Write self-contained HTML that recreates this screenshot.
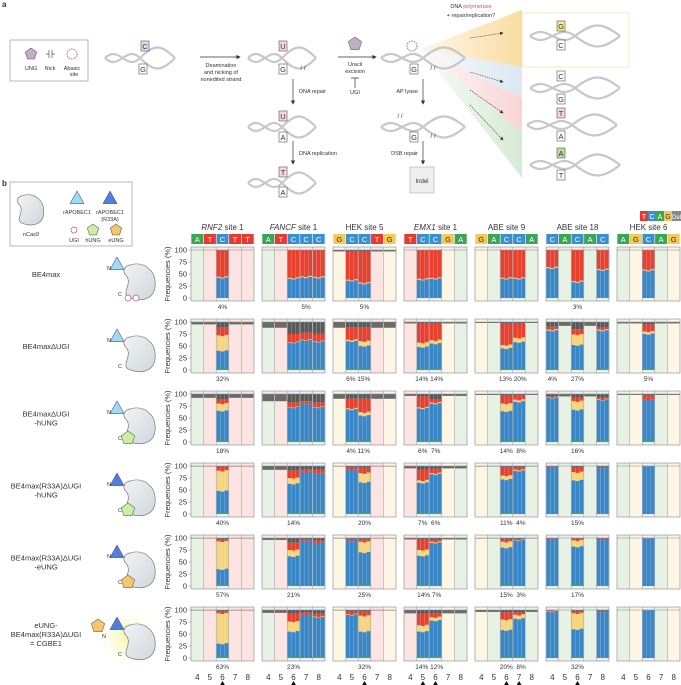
<!DOCTYPE html>
<html><head><meta charset="utf-8">
<style>
html,body{margin:0;padding:0;background:#fff;}
svg{display:block;font-family:"Liberation Sans",sans-serif;}
</style></head>
<body>
<svg id="s" width="681" height="685" viewBox="0 0 681 685" xmlns="http://www.w3.org/2000/svg">
<defs>
<linearGradient id="bean" x1="0" y1="0" x2="1" y2="1"><stop offset="0" stop-color="#f2f4f6"/><stop offset="1" stop-color="#cfd6dc"/></linearGradient>
<radialGradient id="glow"><stop offset="0" stop-color="#f4f7a0"/><stop offset="1" stop-color="#ffffff" stop-opacity="0"/></radialGradient>
<linearGradient id="fanO" x1="0" x2="1"><stop offset="0" stop-color="#fbe2b0" stop-opacity="0.3"/><stop offset="1" stop-color="#f9dca0"/></linearGradient>
<linearGradient id="fanB" x1="0" x2="1"><stop offset="0" stop-color="#dfe9f3" stop-opacity="0.2"/><stop offset="1" stop-color="#dbe7f3"/></linearGradient>
<linearGradient id="fanP" x1="0" x2="1"><stop offset="0" stop-color="#fbd9d9" stop-opacity="0.2"/><stop offset="1" stop-color="#f9d4d4"/></linearGradient>
<linearGradient id="fanG" x1="0" x2="1"><stop offset="0" stop-color="#d9ecd8" stop-opacity="0.2"/><stop offset="1" stop-color="#d6ead4"/></linearGradient>
<marker id="ar" markerWidth="6" markerHeight="6" refX="5" refY="3" orient="auto"><path d="M0,0 L6,3 L0,6z" fill="#333"/></marker>
</defs>
<g id="g"></g>
</svg>
<script>
(function(){
var g=document.getElementById('g');var h='';
function t(x,y,s,o){o=o||{};h+='<text x="'+x+'" y="'+y+'" font-size="'+(o.fs||7)+'" fill="'+(o.c||'#333')+'" text-anchor="'+(o.a||'middle')+'"'+(o.it?' font-style="italic"':'')+(o.w?' font-weight="bold"':'')+(o.tr?' transform="'+o.tr+'"':'')+'>'+s+'</text>';}
function r(x,y,w,hh,f,st){h+='<rect x="'+x+'" y="'+y+'" width="'+w+'" height="'+hh+'" fill="'+f+'"'+(st?' stroke="'+st+'" stroke-width="0.6"':'')+'/>';}
function p(d,f,st,sw,extra){h+='<path d="'+d+'" fill="'+(f||'none')+'" stroke="'+(st||'none')+'" stroke-width="'+(sw||0.8)+'" '+(extra||'')+'/>';}
var pent=function(cx,cy,s,f){var d='';for(var i=0;i<5;i++){var a=-Math.PI/2+i*2*Math.PI/5;d+=(i?'L':'M')+(cx+s*Math.cos(a)).toFixed(1)+','+(cy+s*Math.sin(a)).toFixed(1);}p(d+'z',f,'#666',0.6);};
function helix(x,y,w){p('M'+x+','+(y+12)+' C'+(x+w*0.2)+','+(y-2)+' '+(x+w*0.3)+','+(y+26)+' '+(x+w*0.5)+','+(y+12)+' S'+(x+w*0.8)+','+(y-2)+' '+(x+w)+','+(y+12),'none','#c8c8c8',2.2);
 p('M'+x+','+(y+12)+' C'+(x+w*0.2)+','+(y+26)+' '+(x+w*0.3)+','+(y-2)+' '+(x+w*0.5)+','+(y+12)+' S'+(x+w*0.8)+','+(y+26)+' '+(x+w)+','+(y+12),'none','#c8c8c8',2.2);}
function bx(x,y,l,f){r(x-4,y-5,8,10,f||'#fff','#555');t(x,y+3,l,{fs:7.5});}
// ---- panel a
t(2,7,'a',{w:1,fs:8,a:'start'});
r(10,40,78,41,'#fff','#888');pent(31,54,6,'#bfb0c4');t(31,70,'UNG',{fs:5.5});
p('M46,54h3M52,54h3','none','#555',0.7);p('M49,50v8M52,50v8','none','#555',0.7);t(50,70,'Nick',{fs:5.5});
h+='<circle cx="72" cy="54" r="5" fill="none" stroke="#e06060" stroke-dasharray="1.5,1"/>';t(72,70,'Abasic',{fs:5.5});t(74,76,'site',{fs:5.5});
helix(105,46,70);bx(145,46,'C','#cfe2f3');bx(143,69,'G');
p('M200,57H240','none','#333',0.7,'marker-end="url(#ar)"');t(221,67,'Deamination',{fs:5.5});t(221,74,'and nicking of',{fs:5.5});t(221,81,'nonedited strand',{fs:5.5});
helix(248,46,68);bx(283,46,'U','#f6d6d6');bx(283,69,'G');t(303,70,'/ /',{fs:6});
p('M293,79V104','none','#333',0.7,'marker-end="url(#ar)"');t(299,93,'DNA repair',{fs:5.5,a:'start'});
helix(248,115,68);bx(283,116,'U','#f6d6d6');bx(283,137,'A');
p('M293,141V164','none','#333',0.7,'marker-end="url(#ar)"');t(299,155,'DNA replication',{fs:5.5,a:'start'});
helix(248,171,68);bx(283,172,'T','#f6d6d6');bx(283,192,'A');
pent(355,44,7,'#bfb0c4');p('M338,57H376','none','#333',0.7,'marker-end="url(#ar)"');t(355,66,'Uracil',{fs:5.5});t(355,73,'excision',{fs:5.5});
p('M355,88V78M351,78H359','none','#333',0.7);t(355,94,'UGI',{fs:5.5});
h+='<polygon points="421,49 522,10 522,67" fill="url(#fanO)"/><polygon points="421,49 522,67 522,98" fill="url(#fanB)"/><polygon points="421,49 522,98 522,133" fill="url(#fanP)"/><polygon points="421,49 522,133 522,178" fill="url(#fanG)"/>';
helix(381,46,84);h+='<circle cx="412" cy="46" r="5" fill="#fff" stroke="#e06060" stroke-dasharray="1.5,1"/>';bx(414,69,'G');t(433,70,'/ /',{fs:6});
p('M423,79V104','none','#333',0.7,'marker-end="url(#ar)"');t(418,93,'AP lyase',{fs:5.5,a:'end'});
helix(381,115,84);bx(414,137,'G');t(400,118,'/ /',{fs:6});t(433,138,'/ /',{fs:6});
p('M423,141V164','none','#333',0.7,'marker-end="url(#ar)"');t(418,155,'DSB repair',{fs:5.5,a:'end'});
r(410,167,24,26,'#eee','#aaa');t(422,183,'Indel',{fs:6});
t(471,8,'DNA <tspan fill="#e05050">polymerase</tspan>',{fs:5.5});t(471,17,'+ repair/replication?',{fs:5.5});
p('M470,38L503,33','none','#333',0.6,'stroke-dasharray="1.5,1" marker-end="url(#ar)"');p('M470,72L503,82','none','#333',0.6,'stroke-dasharray="1.5,1" marker-end="url(#ar)"');
p('M470,90L503,113','none','#333',0.6,'stroke-dasharray="1.5,1" marker-end="url(#ar)"');p('M470,105L503,140','none','#333',0.6,'stroke-dasharray="1.5,1" marker-end="url(#ar)"');
r(522,13,107,54,'#fff','#f0dca0');helix(530,24,90);bx(561,26,'G','#f7eb8a');bx(561,45,'C');
helix(530,76,90);bx(561,76,'C');bx(561,99,'G');helix(527,113,90);bx(561,113,'T','#f6d6d6');bx(561,136,'A');helix(530,153,90);bx(561,153,'A','#b6e0a0');bx(561,175,'T');
// ---- panel b legend
t(2,186,'b',{w:1,fs:8,a:'start'});
r(10,182,122,64,'#fff','#888');
function bean(cx,cy,s){p('M'+(cx-10*s)+','+(cy-18*s)+' C'+(cx+2*s)+','+(cy-22*s)+' '+(cx+16*s)+','+(cy-14*s)+' '+(cx+16*s)+','+(cy+2*s)+' C'+(cx+16*s)+','+(cy+18*s)+' '+(cx+2*s)+','+(cy+22*s)+' '+(cx-12*s)+','+(cy+16*s)+' C'+(cx-20*s)+','+(cy+12*s)+' '+(cx-8*s)+','+(cy+2*s)+' '+(cx-14*s)+','+(cy-6*s)+' C'+(cx-20*s)+','+(cy-12*s)+' '+(cx-16*s)+','+(cy-17*s)+' '+(cx-10*s)+','+(cy-18*s)+'z','url(#bean)','#777',0.7);}
bean(31,210,0.8);t(31,236,'nCas9',{fs:5.5});
function tri(cx,cy,s,f){p('M'+cx+','+(cy-s)+' L'+(cx+s)+','+(cy+s*0.8)+' L'+(cx-s)+','+(cy+s*0.8)+'z',f,'#557',0.6,'stroke-linejoin="round"');}
tri(77,198,7,'#9fdcf4');t(77,214,'rAPOBEC1',{fs:5.5});tri(110,198,7,'#4f7fdc');t(110,214,'rAPOBEC1',{fs:5.5});t(110,221,'(R33A)',{fs:5.5});
h+='<circle cx="74" cy="230" r="3" fill="#fff" stroke="#c05080" stroke-width="0.7"/>';t(74,242,'UGI',{fs:5.5});
pent(93,230,6,'#c8f0a0');t(93,242,'hUNG',{fs:5.5});pent(116,230,6,'#f7c66a');t(116,242,'eUNG',{fs:5.5});
// TCAG Del legend
var LC={T:'#e8382f',C:'#3a8fd0',A:'#3aa655',G:'#f5c85a'};
var lx=640;['T','C','A','G'].forEach(function(l,i){r(lx+i*8,211,8,10,LC[l]);t(lx+i*8+4,219,l,{fs:7,c:l=='G'?'#333':'#fff'});});r(672,211,9,10,'#888');t(676.5,219,'Del',{fs:6,c:'#fff'});
// ---- charts
var BG={A:'#e7f1e4',T:'#fbe4e2',G:'#fdf6e4',C:'#e6eef6'};
var P=[
 {n:'<tspan font-style="italic">RNF2</tspan> site 1',L:'ATCTT',gl:[100,95,92,99,99,99],
  b:[{2:[42,44,100]},{2:[40,72,88]},{2:[65,80,88]},{2:[48,90,99]},{2:[35,93,98]},{2:[30,93,98]}],
  lab:[[['4%',2]],[['32%',2]],[['18%',2]],[['40%',2]],[['57%',2]],[['63%',2]]]},
 {n:'<tspan font-style="italic">FANCF</tspan> site 1',L:'ATCCC',gl:[100,88,85,92,96,94],
  b:[{2:[40,42,100],3:[43,45,100],4:[42,44,100]},{2:[57,58,75],3:[62,63,78],4:[59,60,76]},{2:[72,73,82],3:[80,80,85],4:[72,73,82]},{2:[63,75,90],3:[88,88,93],4:[85,85,92]},{2:[62,75,90],3:[94,94,97],4:[90,90,95]},{2:[55,76,92],3:[90,90,95],4:[85,86,92]}],
  lab:[[['5%',3]],[],[],[['14%',2]],[['21%',2]],[['23%',2]]]},
 {n:'HEK site 5',L:'GCCTG',gl:[97,88,90,99,99,99],
  b:[{1:[36,38,97],2:[30,32,97]},{1:[60,63,88],2:[50,60,88]},{1:[68,70,90],2:[55,62,90]},{1:[92,92,97],2:[66,85,97]},{1:[95,95,98],2:[70,92,98]},{1:[90,91,97],2:[55,88,97]}],
  lab:[[['5%',2]],[['6% 15%',1.5]],[['4% 11%',1.5]],[['20%',2]],[['25%',2]],[['32%',2]]]},
 {n:'<tspan font-style="italic">EMX1</tspan> site 1',L:'TCCGA',gl:[100,97,96,95,97,93],
  b:[{1:[38,40,100],2:[40,42,100]},{1:[48,57,97],2:[55,62,97]},{1:[70,72,95],2:[80,82,88]},{1:[65,70,92],2:[83,85,94]},{1:[63,75,97],2:[90,92,96]},{1:[55,68,92],2:[78,85,93]}],
  lab:[[],[['14% 14%',1.5]],[['6%  7%',1.5]],[['7%  6%',1.5]],[['14% 7%',1.5]],[['14% 12%',1.5]]]},
 {n:'ABE site 9',L:'GACCA',gl:[100,98,98,99,99,96],
  b:[{2:[40,42,100],3:[40,42,100]},{2:[45,52,97],3:[58,67,97]},{2:[64,80,97],3:[84,88,97]},{2:[72,80,98],3:[90,92,97]},{2:[80,92,98],3:[95,96,98]},{2:[58,80,95],3:[82,90,95]}],
  lab:[[],[['13% 20%',2.5]],[['14%  8%',2.5]],[['11%  4%',2.5]],[['15%  3%',2.5]],[['20%  8%',2.5]]]},
 {n:'ABE site 18',L:'CACAC',gl:[100,92,95,100,100,100],
  b:[{0:[62,64,100],2:[33,35,100],4:[58,60,100]},{0:[82,84,90],2:[52,74,85],4:[82,84,88]},{0:[92,93,95],2:[67,85,92],4:[88,89,92]},{0:[98,98,99],2:[70,87,97],4:[96,96,98]},{0:[98,98,99],2:[82,95,99],4:[97,97,99]},{0:[97,98,100],2:[60,93,98],4:[96,96,98]}],
  lab:[[['3%',2]],[['4%',0],['27%',2]],[['16%',2]],[['15%',2]],[['17%',2]],[['32%',2]]]},
 {n:'HEK site 6',L:'AGCAG',gl:[100,97,98,100,100,100],
  b:[{2:[57,59,100]},{2:[75,80,95]},{2:[88,88,97]},{2:[100,100,100]},{2:[100,100,100]},{2:[100,100,100]}],
  lab:[[],[['5%',2]],[],[],[],[]]}
];
var green=[0,3,3,3,3,3];
var cw=12.6,W=63;
P.forEach(function(pd,pi){
 var x0=191+71*pi;
 t(x0+W/2,230,pd.n,{fs:8});
 for(var k=0;k<5;k++){var l=pd.L[k];r(x0+k*cw+0.3,234,cw-0.6,10,LC[l]);t(x0+k*cw+cw/2,242,l,{fs:7.5,c:l=='G'?'#333':'#fff'});}
 for(var ri=0;ri<6;ri++){
  var y0=298+72*ri,H=48;function Y(v){return y0-v/100*H;}
  var top=Y(100)-3,bot=y0+3;
  for(var k=0;k<5;k++){var l=pd.L[k];r(x0+k*cw,top,cw,bot-top,BG[l]);}
  for(var k=0;k<5;k++){
   var cx=x0+k*cw,bv=pd.b[ri][k];
   if(bv){
    var sw=(cw-1.2)/3;
    for(var s=0;s<3;s++){var jit=(s==1?-1.5:(s==2?1:0));var bx2=cx+0.4+s*(sw+0.2);
     var b=Math.max(0,Math.min(bv[0]+jit,100)),yy=Math.max(b,bv[1]+jit),rr=bv[2];
     r(bx2,Y(100),sw,Y(rr)-Y(100),'#5a5a5a');
     r(bx2,Y(rr),sw,Y(yy)-Y(rr),'#e8412f');
     r(bx2,Y(yy),sw,Y(b)-Y(yy),'#f8d57a');
     r(bx2,Y(b),sw,Y(0)-Y(b),'#3a87c8');
     if(green[ri]&&bv[0]<90)r(bx2,Y(green[ri]),sw,Y(0)-Y(green[ri]),'#3daa4c');
    }
   } else {
    var gv=pd.gl[ri]; if(gv<100) r(cx+0.4,Y(100),cw-0.8,Y(gv)-Y(100),'#6a6a6a');
   }
  }
  for(var k=1;k<5;k++)p('M'+(x0+k*cw)+','+top+'V'+bot,'none','#999',0.5);
  r(x0,top,W,bot-top,'none','#888');
  p('M'+x0+','+Y(100)+'h'+W,'none','#888',0.5);
  pd.lab[ri].forEach(function(lb){t(x0+lb[1]*cw+cw/2,y0+11,lb[0].replace(/ /g,'\u00a0'),{fs:6.5});});
  if(pi==0){
   [0,25,50,75,100].forEach(function(v){t(187,Y(v)+2.5,v,{fs:7.5,a:'end'});p('M'+(x0-2)+','+Y(v)+'h2','none','#888',0.5);});
   t(0,0,'Frequencies (%)',{fs:7.5,tr:'translate(170,'+(y0-24)+') rotate(-90)'});
  }
 }
 for(var k=0;k<5;k++)t(x0+k*cw+cw/2,680,String(4+k),{fs:8});
});
[[0,2],[1,2],[2,2],[3,1],[3,2],[4,2],[4,3],[5,2]].forEach(function(a){var cx=191+71*a[0]+a[1]*cw+cw/2;p('M'+(cx-3)+',686 L'+cx+',681 L'+(cx+3)+',686z','#111');});
// ---- left row labels & drawings
var labs=[['BE4max'],['BE4max\u0394UGI'],['BE4max\u0394UGI','-hUNG'],['BE4max(R33A)\u0394UGI','-hUNG'],['BE4max(R33A)\u0394UGI','-eUNG'],['eUNG-','BE4max(R33A)\u0394UGI','= CGBE1']];
labs.forEach(function(ls,i){var cy=274+72*i;var n=ls.length;ls.forEach(function(s,j){t(46,cy+3+(j-(n-1)/2)*9,s,{fs:7.5});});
 if(i==5)h+='<circle cx="128" cy="'+(cy+4)+'" r="34" fill="url(#glow)"/>';
 bean(140,cy+8,0.95);
 var tc=(i>=3)?'#4f7fdc':'#9fdcf4';
 tri(117,cy-10,7,tc);
 if(i==5){pent(98,cy-8,7,'#f7c66a');t(104,cy+4,'N',{fs:5.5});}else t(109,cy-4,'N',{fs:5.5});
 t(120,cy+22,'C',{fs:5.5});
 if(i==0){h+='<circle cx="128" cy="'+(cy+24)+'" r="3" fill="#fff" stroke="#c05080" stroke-width="0.7"/><circle cx="136" cy="'+(cy+24)+'" r="3" fill="#fff" stroke="#c05080" stroke-width="0.7"/>';}
 if(i==2||i==3)pent(128,cy+20,7,'#c8f0a0');
 if(i==4)pent(128,cy+20,7,'#f7c66a');
});
g.innerHTML=h;
})();
</script>
</body></html>
